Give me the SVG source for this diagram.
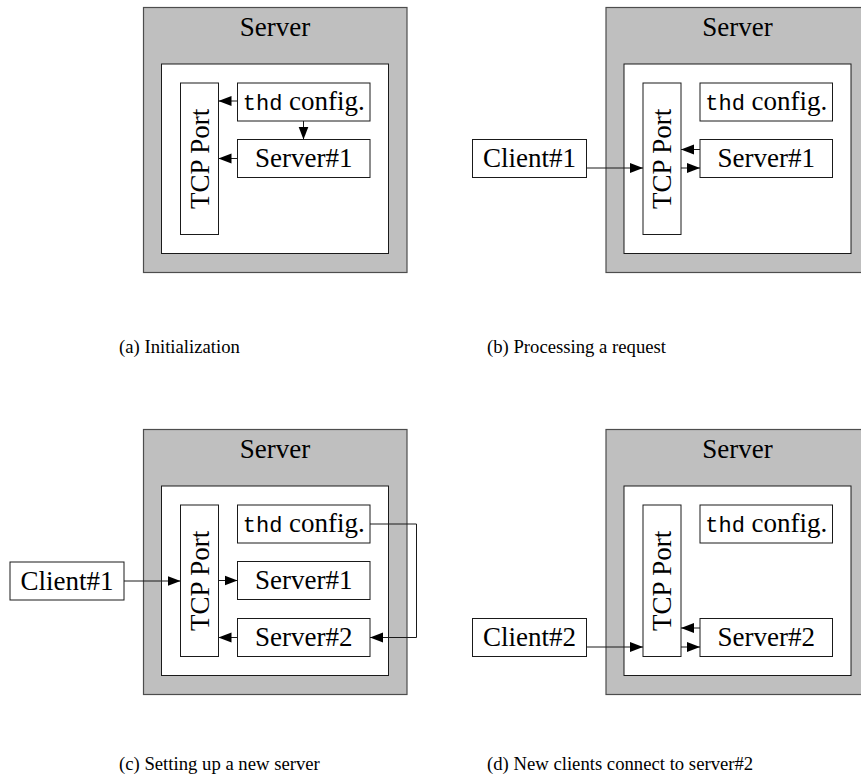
<svg xmlns="http://www.w3.org/2000/svg" width="861" height="779" viewBox="0 0 861 779">
  <style>
    .outer { fill: #bfbfbf; stroke: #4d4d4d; stroke-width: 1.2; }
    .inner { fill: #ffffff; stroke: #1a1a1a; stroke-width: 1; }
    .box   { fill: #ffffff; stroke: #1a1a1a; stroke-width: 1; }
    .lbl   { font-family: 'Liberation Serif', 'DejaVu Serif', 'Noto Serif', serif; font-size: 27px; fill: #000; text-anchor: middle; }
    .tt    { font-family: 'Liberation Mono', 'DejaVu Sans Mono', monospace; font-size: 22px; }
    .cap   { font-family: 'Liberation Serif', 'DejaVu Serif', 'Noto Serif', serif; font-size: 18.7px; fill: #000; }
    .wire  { stroke: #1a1a1a; stroke-width: 1; fill: none; marker-end: url(#tip); }
  </style>
  <defs>
    <marker id="tip" markerUnits="userSpaceOnUse" markerWidth="13" markerHeight="11" refX="13" refY="5.5" orient="auto">
      <path d="M0,0.5 L13,5.5 L0,10.5 Z" fill="#000"/>
    </marker>
  </defs>

  <!-- (a) Initialization -->
  <g id="a-server">
    <rect class="outer" x="143.5" y="7.5" width="263.5" height="265"/>
    <text class="lbl" x="275" y="36">Server</text>
  </g>
  <g id="a-inner"><rect class="inner" x="161.5" y="64" width="227" height="189.5"/></g>
  <g id="a-tcp">
    <rect class="box" x="180.5" y="83" width="38" height="151.5"/>
    <text class="lbl" transform="translate(199.5 158.8) rotate(-90)" x="0" y="9">TCP Port</text>
  </g>
  <g id="a-config">
    <rect class="box" x="237.5" y="83" width="132.5" height="38"/>
    <text class="lbl" x="303.8" y="110"><tspan class="tt">thd</tspan> config.</text>
  </g>
  <g id="a-server1">
    <rect class="box" x="237.5" y="139.5" width="132.5" height="38"/>
    <text class="lbl" x="303.8" y="167">Server#1</text>
  </g>
  <g id="a-connectors">
    <line class="wire" x1="237.5" y1="101" x2="218.5" y2="101"/>
    <line class="wire" x1="303.5" y1="121" x2="303.5" y2="139.5"/>
    <line class="wire" x1="237.5" y1="158.5" x2="218.5" y2="158.5"/>
  </g>

  <!-- (b) Processing a request -->
  <g id="b-server">
    <rect class="outer" x="606" y="7.5" width="263.5" height="265"/>
    <text class="lbl" x="737.5" y="36">Server</text>
  </g>
  <g id="b-inner"><rect class="inner" x="624" y="64" width="227" height="189.5"/></g>
  <g id="b-tcp">
    <rect class="box" x="643" y="83" width="38" height="151.5"/>
    <text class="lbl" transform="translate(662 158.8) rotate(-90)" x="0" y="9">TCP Port</text>
  </g>
  <g id="b-config">
    <rect class="box" x="700" y="83" width="132.5" height="38"/>
    <text class="lbl" x="766.3" y="110"><tspan class="tt">thd</tspan> config.</text>
  </g>
  <g id="b-server1">
    <rect class="box" x="700" y="139.5" width="132.5" height="38"/>
    <text class="lbl" x="766.3" y="167">Server#1</text>
  </g>
  <g id="b-client1">
    <rect class="box" x="472.5" y="139.5" width="114" height="38"/>
    <text class="lbl" x="529.5" y="167">Client#1</text>
  </g>
  <g id="b-connectors">
    <line class="wire" x1="586.5" y1="168" x2="643" y2="168"/>
    <line class="wire" x1="700" y1="149.5" x2="681" y2="149.5"/>
    <line class="wire" x1="681" y1="168" x2="700" y2="168"/>
  </g>

  <!-- (c) Setting up a new server -->
  <g id="c-server">
    <rect class="outer" x="143.5" y="429.5" width="263.5" height="265"/>
    <text class="lbl" x="275" y="458">Server</text>
  </g>
  <g id="c-inner"><rect class="inner" x="161.5" y="486" width="227" height="189.5"/></g>
  <g id="c-tcp">
    <rect class="box" x="180.5" y="505" width="38" height="151.5"/>
    <text class="lbl" transform="translate(199.5 580.8) rotate(-90)" x="0" y="9">TCP Port</text>
  </g>
  <g id="c-config">
    <rect class="box" x="237.5" y="505" width="132.5" height="38"/>
    <text class="lbl" x="303.8" y="532"><tspan class="tt">thd</tspan> config.</text>
  </g>
  <g id="c-server1">
    <rect class="box" x="237.5" y="561.5" width="132.5" height="38"/>
    <text class="lbl" x="303.8" y="589">Server#1</text>
  </g>
  <g id="c-server2">
    <rect class="box" x="237.5" y="618.5" width="132.5" height="38"/>
    <text class="lbl" x="303.8" y="646">Server#2</text>
  </g>
  <g id="c-client1">
    <rect class="box" x="10" y="562" width="114" height="38"/>
    <text class="lbl" x="67" y="589.5">Client#1</text>
  </g>
  <g id="c-connectors">
    <line class="wire" x1="124" y1="581" x2="180.5" y2="581"/>
    <line class="wire" x1="218.5" y1="580.5" x2="237.5" y2="580.5"/>
    <line class="wire" x1="237.5" y1="637.5" x2="218.5" y2="637.5"/>
    <path class="wire" d="M370,524 H416.5 V637.5 H370"/>
  </g>

  <!-- (d) New clients connect to server#2 -->
  <g id="d-server">
    <rect class="outer" x="606" y="429.5" width="263.5" height="265"/>
    <text class="lbl" x="737.5" y="458">Server</text>
  </g>
  <g id="d-inner"><rect class="inner" x="624" y="486" width="227" height="189.5"/></g>
  <g id="d-tcp">
    <rect class="box" x="643" y="505" width="38" height="151.5"/>
    <text class="lbl" transform="translate(662 580.8) rotate(-90)" x="0" y="9">TCP Port</text>
  </g>
  <g id="d-config">
    <rect class="box" x="700" y="505" width="132.5" height="38"/>
    <text class="lbl" x="766.3" y="532"><tspan class="tt">thd</tspan> config.</text>
  </g>
  <g id="d-server2">
    <rect class="box" x="700" y="618.5" width="132.5" height="38"/>
    <text class="lbl" x="766.3" y="646">Server#2</text>
  </g>
  <g id="d-client2">
    <rect class="box" x="472.5" y="618.5" width="114" height="38"/>
    <text class="lbl" x="529.5" y="646">Client#2</text>
  </g>
  <g id="d-connectors">
    <line class="wire" x1="586.5" y1="647" x2="643" y2="647"/>
    <line class="wire" x1="700" y1="628" x2="681" y2="628"/>
    <line class="wire" x1="681" y1="647" x2="700" y2="647"/>
  </g>

  <!-- sub-captions -->
  <g id="captions">
    <text class="cap" x="119" y="353">(a) Initialization</text>
    <text class="cap" x="487" y="353">(b) Processing a request</text>
    <text class="cap" x="119" y="770">(c) Setting up a new server</text>
    <text class="cap" x="487" y="770">(d) New clients connect to server#2</text>
  </g>
</svg>
